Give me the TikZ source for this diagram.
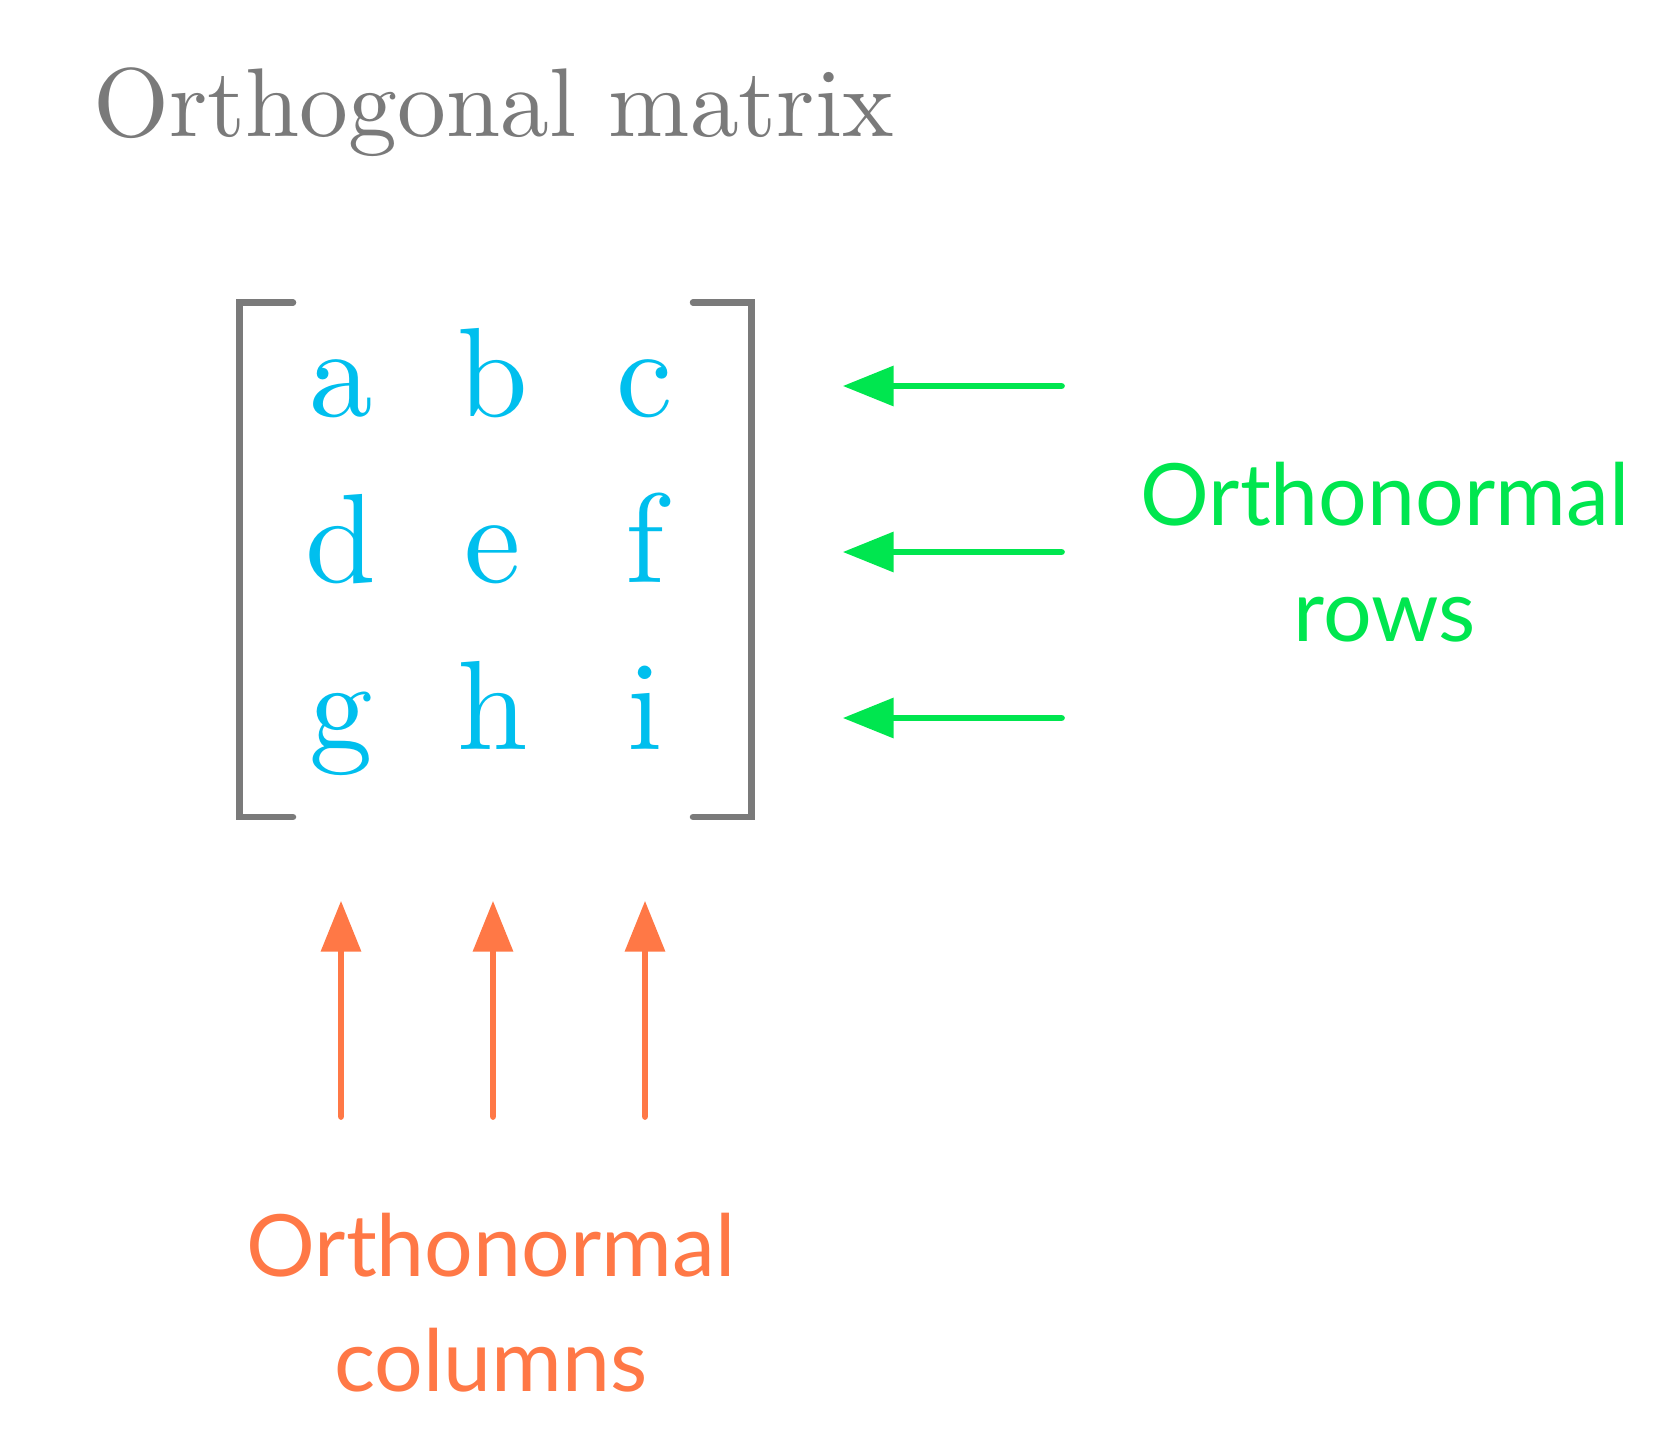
\documentclass[tikz,border=0pt]{standalone}
\usepackage{fontspec}
\usetikzlibrary{arrows.meta}
\newfontfamily\lmten{lmroman10-regular}[Extension=.otf]
\newfontfamily\labelfont{Lato}
\definecolor{titlegrey}{HTML}{7A7A7A}
\definecolor{entryblue}{HTML}{00BFEE}
\definecolor{rowgreen}{HTML}{00E64F}
\definecolor{colorange}{HTML}{FF7846}
\begin{document}
\begin{tikzpicture}[x=1pt,y=-1pt,
  entry/.style={anchor=base,inner sep=0pt,text=entryblue,font=\lmten\fontsize{127}{127}\selectfont},
  bracket/.style={draw=titlegrey,line width=6.5pt,line cap=round,line join=miter},
  rowarrow/.style={draw=rowgreen,line width=6.7pt,line cap=round,-{Triangle[length=51pt,width=39pt]}},
  colarrow/.style={draw=colorange,line width=6.7pt,line cap=round,-{Triangle[length=51pt,width=39pt]}},
  rowlabel/.style={anchor=base,inner sep=0pt,text=rowgreen,font=\labelfont\fontsize{86}{86}\selectfont},
  collabel/.style={anchor=base,inner sep=0pt,text=colorange,font=\labelfont\fontsize{86}{86}\selectfont}]
\useasboundingbox (0,0) rectangle (1673,1451);

% title
\node[anchor=base west,inner sep=0pt,text=titlegrey,font=\lmten\fontsize{97.6}{97.6}\selectfont]
  (title) at (93,136) {Orthogonal matrix};

% matrix entries
\node[entry] (a) at (341,416) {a};
\node[entry] (b) at (493,416) {b};
\node[entry] (c) at (645,416) {c};
\node[entry] (d) at (341,582) {d};
\node[entry] (e) at (493,582) {e};
\node[entry] (f) at (645,582) {f};
\node[entry] (g) at (341,749) {g};
\node[entry] (h) at (493,749) {h};
\node[entry] (i) at (645,749) {i};

% brackets
\draw[bracket] (293,302.5) -- (239.5,302.5) -- (239.5,817) -- (293,817);
\draw[bracket] (693,302.5) -- (751.5,302.5) -- (751.5,817) -- (693,817);

% row arrows
\coordinate (r1s) at (1061.5,386);
\coordinate (r1e) at (842.7,386);
\coordinate (r2s) at (1061.5,552);
\coordinate (r2e) at (842.7,552);
\coordinate (r3s) at (1061.5,718);
\coordinate (r3e) at (842.7,718);
\draw[rowarrow] (r1s) -- (r1e);
\draw[rowarrow] (r2s) -- (r2e);
\draw[rowarrow] (r3s) -- (r3e);

% column arrows
\coordinate (c1s) at (341,1116.5);
\coordinate (c1e) at (341,900.7);
\coordinate (c2s) at (493,1116.5);
\coordinate (c2e) at (493,900.7);
\coordinate (c3s) at (645,1116.5);
\coordinate (c3e) at (645,900.7);
\draw[colarrow] (c1s) -- (c1e);
\draw[colarrow] (c2s) -- (c2e);
\draw[colarrow] (c3s) -- (c3e);

% labels
\node[rowlabel] (rowsA) at (1385,525) {Orthonormal};
\node[rowlabel] (rowsB) at (1385,641) {rows};
\node[collabel] (colsA) at (491,1276) {Orthonormal};
\node[collabel] (colsB) at (491,1391) {columns};
\end{tikzpicture}
\end{document}
